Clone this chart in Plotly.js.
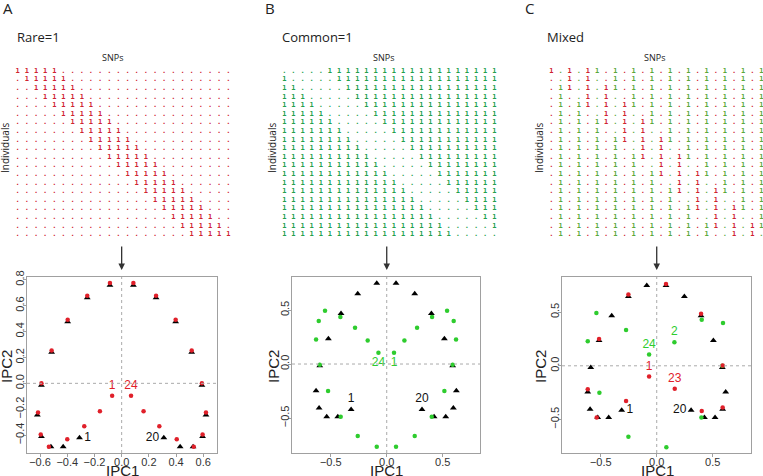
<!DOCTYPE html>
<html>
<head>
<meta charset="utf-8">
<script src="https://cdn.plot.ly/plotly-3.0.1.min.js"></script>
<style>
  html, body { margin: 0; padding: 0; background: #fff; }
  /* near-1 opacity keeps small text on greyscale antialiasing */
  #chart { width: 763px; height: 476px; opacity: 0.999; }
</style>
</head>
<body>
<div id="chart"></div>
<script>
// genotype matrices: 20 individuals (rows) x 24 SNPs (columns)
var rareRows = [
  "11111...................",
  ".11111..................",
  "..11111.................",
  "...11111................",
  "....11111...............",
  ".....11111..............",
  "......11111.............",
  ".......11111............",
  "........11111...........",
  ".........11111..........",
  "..........11111.........",
  "...........11111........",
  "............11111.......",
  ".............11111......",
  "..............11111.....",
  "...............11111....",
  "................11111...",
  ".................11111..",
  "..................11111.",
  "...................11111"
];
var commonRows = [
  ".....1111111111111111111",
  "1.....111111111111111111",
  "11.....11111111111111111",
  "111.....1111111111111111",
  "1111.....111111111111111",
  "11111.....11111111111111",
  "111111.....1111111111111",
  "1111111.....111111111111",
  "11111111.....11111111111",
  "111111111.....1111111111",
  "1111111111.....111111111",
  "11111111111.....11111111",
  "111111111111.....1111111",
  "1111111111111.....111111",
  "11111111111111.....11111",
  "111111111111111.....1111",
  "1111111111111111.....111",
  "11111111111111111.....11",
  "111111111111111111.....1",
  "1111111111111111111....."
];
var mixedRows = [
  "1.1.11.1.1.1.1.1.1.1.1.1",
  "..1.1..1.1.1.1.1.1.1.1.1",
  ".11.1.11.1.1.1.1.1.1.1.1",
  ".1..1.1..1.1.1.1.1.1.1.1",
  ".1.11.1.11.1.1.1.1.1.1.1",
  ".1.1..1.1..1.1.1.1.1.1.1",
  ".1.1.11.1.11.1.1.1.1.1.1",
  ".1.1.1..1.1..1.1.1.1.1.1",
  ".1.1.1.11.1.11.1.1.1.1.1",
  ".1.1.1.1..1.1..1.1.1.1.1",
  ".1.1.1.1.11.1.11.1.1.1.1",
  ".1.1.1.1.1..1.1..1.1.1.1",
  ".1.1.1.1.1.11.1.11.1.1.1",
  ".1.1.1.1.1.1..1.1..1.1.1",
  ".1.1.1.1.1.1.11.1.11.1.1",
  ".1.1.1.1.1.1.1..1.1..1.1",
  ".1.1.1.1.1.1.1.11.1.11.1",
  ".1.1.1.1.1.1.1.1..1.1..1",
  ".1.1.1.1.1.1.1.1.11.1.11",
  ".1.1.1.1.1.1.1.1.1..1.1."
];
// coding of each SNP: R = rare allele coded 1, G = common allele coded 1
var rareCoding   = "RRRRRRRRRRRRRRRRRRRRRRRR";
var commonCoding = "GGGGGGGGGGGGGGGGGGGGGGGG";
var mixedCoding  = "RGRGRGRGRGRGRGRGRGRGRGRG";

[rareRows, commonRows, mixedRows].forEach(function (m, k) {
  m.forEach(function (r, i) {
    if (r.length !== 24) throw new Error("matrix " + k + " row " + i + " length " + r.length);
  });
});

// PCA coordinates, individuals 1..20 (black triangles)
var indAx = [-0.31, -0.43, -0.52, -0.59, -0.62, -0.59, -0.515, -0.397, -0.253, -0.086, 0.086, 0.253, 0.397, 0.515, 0.59, 0.62, 0.595, 0.525, 0.43, 0.31];
var indAy = [-0.42, -0.49, -0.49, -0.41, -0.245, -0.015, 0.24, 0.475, 0.66, 0.757, 0.757, 0.66, 0.475, 0.24, -0.015, -0.245, -0.41, -0.49, -0.49, -0.42];
var indBx = [-0.318, -0.437, -0.536, -0.604, -0.631, -0.598, -0.521, -0.408, -0.259, -0.089, 0.083, 0.25, 0.399, 0.515, 0.589, 0.622, 0.595, 0.527, 0.423, 0.315];
var indBy = [-0.42, -0.488, -0.488, -0.407, -0.247, -0.015, 0.235, 0.469, 0.651, 0.747, 0.747, 0.651, 0.469, 0.235, -0.015, -0.247, -0.407, -0.488, -0.488, -0.42];
var indCx = [-0.313, -0.429, -0.527, -0.595, -0.616, -0.589, -0.515, -0.402, -0.253, -0.089, 0.083, 0.247, 0.396, 0.506, 0.586, 0.616, 0.589, 0.521, 0.426, 0.307];
var indCy = [-0.414, -0.481, -0.481, -0.404, -0.244, -0.015, 0.235, 0.466, 0.645, 0.747, 0.747, 0.645, 0.466, 0.235, -0.015, -0.244, -0.404, -0.481, -0.481, -0.414];
var indLabels = ["1", "", "", "", "", "", "", "", "", "", "", "", "", "", "", "", "", "", "", "20"];

// PCA coordinates, SNPs 1..24 (coloured dots)
var snpAx = [-0.07, -0.16, -0.275, -0.40, -0.535, -0.595, -0.615, -0.59, -0.515, -0.397, -0.253, -0.086, 0.086, 0.253, 0.397, 0.515, 0.59, 0.62, 0.595, 0.53, 0.405, 0.277, 0.161, 0.069];
var snpAy = [-0.096, -0.215, -0.331, -0.432, -0.49, -0.395, -0.225, 0.0, 0.253, 0.49, 0.677, 0.775, 0.775, 0.677, 0.49, 0.253, 0.0, -0.225, -0.395, -0.49, -0.432, -0.331, -0.215, -0.096];
var snpBx = [0.065, 0.158, 0.271, 0.405, 0.539, 0.598, 0.619, 0.589, 0.515, 0.402, 0.25, 0.083, -0.089, -0.259, -0.411, -0.524, -0.598, -0.631, -0.607, -0.551, -0.414, -0.283, -0.17, -0.074];
var snpBy = [0.105, 0.219, 0.336, 0.435, 0.494, 0.398, 0.228, -0.006, -0.25, -0.488, -0.667, -0.765, -0.765, -0.667, -0.488, -0.25, -0.006, 0.228, 0.398, 0.494, 0.435, 0.336, 0.219, 0.105];
var snpCx = [-0.068, 0.158, -0.274, 0.402, -0.536, 0.592, -0.616, 0.586, -0.515, 0.399, -0.253, 0.086, 0.083, -0.253, 0.396, -0.512, 0.589, -0.616, 0.589, -0.539, 0.402, -0.274, 0.161, -0.068];
var snpCy = [-0.099, 0.219, -0.327, 0.429, -0.481, 0.398, -0.219, 0.0, 0.25, -0.481, 0.664, -0.759, 0.762, -0.66, 0.485, -0.25, 0.004, 0.228, -0.389, 0.491, -0.42, 0.333, -0.213, 0.105];
var snpLabelsA = ["1", "", "", "", "", "", "", "", "", "", "", "", "", "", "", "", "", "", "", "", "", "", "", "24"];
var snpLabelsB = snpLabelsA;
var snpLabelsC = ["1", "2", "", "", "", "", "", "", "", "", "", "", "", "", "", "", "", "", "", "", "", "", "23", "24"];

var RED = "#e0202a";
var GREEN = "#2ecc2e";
var matColors = {R: "#cf2230", G: "#22a04c"};
var matColorsMixed = {R: "#cf2230", G: "#5aa83a"};
var W = 763, H = 476;

function matrixTrace(rows, coding, palette, xa, ya) {
  var xs = [], ys = [], txt = [], cols = [];
  rows.forEach(function (row, i) {
    for (var j = 0; j < row.length; j++) {
      xs.push(j);
      ys.push(i);
      txt.push(row[j]);
      cols.push(palette[coding[j]]);
    }
  });
  return {
    type: 'scatter', mode: 'text', x: xs, y: ys, text: txt,
    textposition: 'middle center',
    textfont: {family: 'DejaVu Sans Mono', size: 7, weight: 'bold', color: cols},
    xaxis: xa, yaxis: ya, cliponaxis: false, hoverinfo: 'skip'
  };
}

function indTrace(x, y, pos, xa, ya) {
  return {
    type: 'scatter', mode: 'markers+text', x: x, y: y, text: indLabels,
    textposition: pos,
    textfont: {family: 'Liberation Sans', size: 12, color: '#111'},
    marker: {symbol: 'triangle-up', size: 6, color: '#000'},
    xaxis: xa, yaxis: ya, cliponaxis: false
  };
}

function snpTrace(x, y, labels, coding, pos, xa, ya) {
  var cols = [];
  for (var j = 0; j < x.length; j++) cols.push(coding[j] === 'R' ? RED : GREEN);
  return {
    type: 'scatter', mode: 'markers+text', x: x, y: y, text: labels,
    textposition: pos,
    textfont: {family: 'Liberation Sans', size: 12, color: cols},
    marker: {symbol: 'circle', size: 4.5, color: cols},
    xaxis: xa, yaxis: ya, cliponaxis: false
  };
}

var sidePos = ['middle right'].concat(Array(18).fill('middle center'), ['middle left']);
var data = [
  matrixTrace(rareRows, rareCoding, matColors, 'x4', 'y4'),
  matrixTrace(commonRows, commonCoding, matColors, 'x5', 'y5'),
  matrixTrace(mixedRows, mixedCoding, matColorsMixed, 'x6', 'y6'),
  indTrace(indAx, indAy, sidePos, 'x', 'y'),
  snpTrace(snpAx, snpAy, snpLabelsA, rareCoding, 'top center', 'x', 'y'),
  indTrace(indBx, indBy, 'top center', 'x2', 'y2'),
  snpTrace(snpBx, snpBy, snpLabelsB, commonCoding, 'bottom center', 'x2', 'y2'),
  indTrace(indCx, indCy, sidePos, 'x3', 'y3'),
  snpTrace(snpCx, snpCy, snpLabelsC, mixedCoding, 'top center', 'x3', 'y3')
];

var tickFont = {family: 'Liberation Sans', size: 11, color: '#333'};
function pcAxis(domain, range, dtick, anchor, isY) {
  return {
    domain: domain, range: range, anchor: anchor, dtick: dtick, tick0: 0,
    tickformat: '.1f', showline: true, mirror: true, linecolor: '#a0a0a0', linewidth: 1,
    ticks: 'outside', ticklen: 3, tickcolor: '#a0a0a0', showgrid: false, zeroline: false,
    tickfont: tickFont, tickangle: isY ? -90 : 0, ticklabelstandoff: isY ? -5 : -4
  };
}
function hidden(domain, range, anchor) {
  return {domain: domain, range: range, anchor: anchor, visible: false, fixedrange: true};
}

var rowDom = [1 - 238.7 / H, 1 - 66.7 / H];
var plotDom = [1 - 453 / H, 1 - 277 / H];

var layout = {
  width: W, height: H,
  margin: {l: 0, r: 0, t: 0, b: 0},
  paper_bgcolor: '#fff', plot_bgcolor: '#fff',
  showlegend: false,
  font: {family: 'Liberation Sans', color: '#222'},
  xaxis: pcAxis([27 / W, 217 / W], [-0.696, 0.701], 0.2, 'y', false),
  yaxis: pcAxis(plotDom, [-0.538, 0.821], 0.2, 'x', true),
  xaxis2: pcAxis([292 / W, 480 / W], [-0.846, 0.833], 0.5, 'y2', false),
  yaxis2: pcAxis(plotDom, [-0.824, 0.806], 0.5, 'x2', true),
  xaxis3: pcAxis([562 / W, 751 / W], [-0.846, 0.842], 0.5, 'y3', false),
  yaxis3: pcAxis(plotDom, [-0.812, 0.827], 0.5, 'x3', true),
  xaxis4: hidden([13.1 / W, 232.9 / W], [-0.5, 23.5], 'y4'),
  yaxis4: hidden(rowDom, [19.5, -0.5], 'x4'),
  xaxis5: hidden([279.7 / W, 498.9 / W], [-0.5, 23.5], 'y5'),
  yaxis5: hidden(rowDom, [19.5, -0.5], 'x5'),
  xaxis6: hidden([546.9 / W, 1], [-0.5, 23.17], 'y6'),
  yaxis6: hidden(rowDom, [19.5, -0.5], 'x6'),
  shapes: [],
  annotations: []
};

// dotted zero lines and the arrows from matrix to PCA plot
['', '2', '3'].forEach(function (s) {
  layout.shapes.push({type: 'line', xref: 'x' + s, yref: 'y' + s + ' domain', x0: 0, x1: 0, y0: 0, y1: 1,
    line: {color: '#aaa', width: 1, dash: 'dot'}});
  layout.shapes.push({type: 'line', xref: 'x' + s + ' domain', yref: 'y' + s, x0: 0, x1: 1, y0: 0, y1: 0,
    line: {color: '#aaa', width: 1, dash: 'dot'}});
  layout.annotations.push({xref: 'x' + s, yref: 'paper', x: 0, y: 1 - 270 / H, text: '',
    showarrow: true, ax: 0, ay: -25, arrowhead: 2, arrowsize: 1, arrowwidth: 1.3, arrowcolor: '#333'});
});

function label(text, x, y, size, opts) {
  var a = {xref: 'paper', yref: 'paper', x: x / W, y: 1 - y / H, text: text, showarrow: false,
    font: {family: 'Open Sans', size: size, color: '#222'}, xanchor: 'center', yanchor: 'middle'};
  for (var k in opts) a[k] = opts[k];
  layout.annotations.push(a);
}

var panels = [
  {letter: 'A', lx: 1, title: 'Rare=1', tx: 15, snps: 112.5, ind: 5, ipc1: 122, ipc2: 6},
  {letter: 'B', lx: 263, title: 'Common=1', tx: 280, snps: 384, ind: 272, ipc1: 386, ipc2: 273},
  {letter: 'C', lx: 523, title: 'Mixed', tx: 545, snps: 654.5, ind: 539, ipc1: 657, ipc2: 540}
];
panels.forEach(function (p) {
  label(p.letter, p.lx, 8, 15, {xanchor: 'left'});
  label(p.title, p.tx, 37.5, 13, {xanchor: 'left'});
  label('SNPs', p.snps, 57, 9, {});
  label('Individuals', p.ind, 148, 10, {textangle: -90});
  label('IPC1', p.ipc1, 470, 15, {font: {family: 'Liberation Sans', size: 15, color: '#222'}});
  label('IPC2', p.ipc2, 367, 15, {textangle: -90, font: {family: 'Liberation Sans', size: 15, color: '#222'}});
});

Plotly.newPlot('chart', data, layout, {staticPlot: true});
</script>
</body>
</html>
